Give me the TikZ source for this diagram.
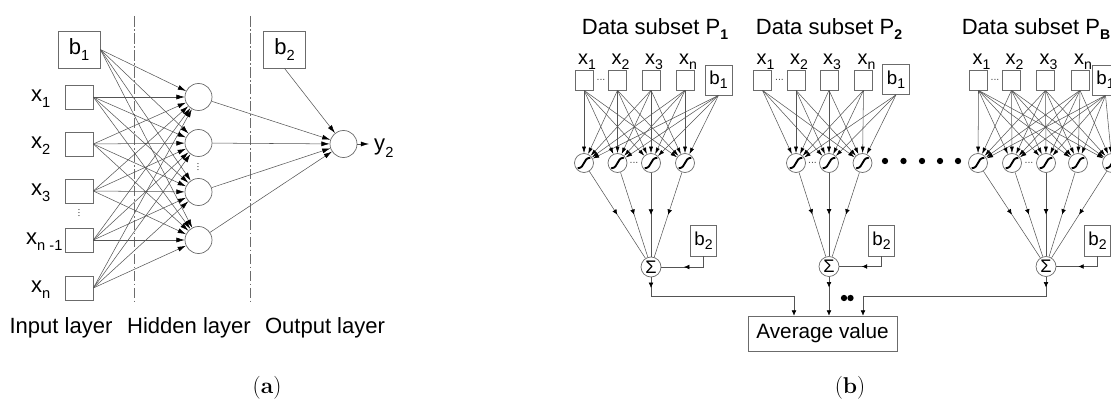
\documentclass[tikz,border=0pt]{standalone}
\usepackage{fontspec}
\newfontfamily\arial{Liberation Sans}
\usetikzlibrary{arrows.meta,decorations.markings}
\definecolor{frame}{gray}{0.42}
\definecolor{wire}{gray}{0.33}
\newcommand\sbx[3]{\raisebox{-#2pt}{\fontsize{#1}{#1}\selectfont #3}}
\newcommand\sa[1]{\sbx{12.5}{5.5}{#1}}
\newcommand\sbq[1]{\sbx{12}{3.5}{#1}}
\begin{document}
\begin{tikzpicture}[x=0.03cm,y=-0.03cm,
  labA/.style={font=\arial\fontsize{18.8}{22}\selectfont, inner sep=0},
  labB/.style={font=\arial\fontsize{17}{20}\selectfont, inner sep=0},
  boxA/.style={draw=frame, line width=0.6pt, minimum width=0.84cm, minimum height=0.72cm, inner sep=0},
  bA/.style={draw=frame, line width=0.6pt, minimum width=1.26cm, minimum height=1.11cm, inner sep=0, font=\arial\fontsize{18.8}{22}\selectfont},
  nA/.style={circle, draw=frame, line width=0.6pt, minimum size=0.81cm, inner sep=0},
  arA/.style={draw=wire, line width=0.45pt, -{Latex[length=7pt,width=4.2pt,color=black]}},
  dd/.style={draw=frame, line width=0.6pt, dash pattern=on 9pt off 2pt on 1.5pt off 2pt},
  inB/.style={draw=frame, line width=0.6pt, minimum width=0.54cm, minimum height=0.6cm, inner sep=0},
  b1B/.style={draw=frame, line width=0.6pt, minimum width=0.81cm, minimum height=0.9cm, inner sep=0, font=\arial\fontsize{16}{18}\selectfont},
  b2B/.style={draw=frame, line width=0.6pt, minimum width=0.78cm, minimum height=0.93cm, inner sep=0, font=\arial\fontsize{16}{18}\selectfont},
  sig/.style={circle, draw=frame, line width=0.6pt, minimum size=0.57cm, inner sep=0,
    path picture={\draw[line width=1.6pt, black] ([shift={(-0.19cm,-0.16cm)}]path picture bounding box.center) .. controls +(0.24cm,0.02cm) and +(-0.24cm,-0.02cm) .. ([shift={(0.19cm,0.16cm)}]path picture bounding box.center);}},
  sumB/.style={circle, draw=frame, line width=0.6pt, minimum size=0.6cm, inner sep=0, font=\arial\fontsize{15.5}{15.5}\selectfont},
  avgB/.style={draw=frame, line width=0.6pt, minimum width=4.47cm, minimum height=1.05cm, inner sep=0, font=\arial\fontsize{17.7}{20}\selectfont},
  arB/.style={draw=wire, line width=0.45pt, -{Latex[length=5.5pt,width=3.4pt,color=black]}},
  arB2/.style={draw=wire, line width=0.45pt, -{Latex[length=4.5pt,width=4pt,color=black]}},
  wireB/.style={draw=wire, line width=0.45pt},
  midtip/.style={postaction={decorate}, decoration={markings, mark=at position #1 with {\arrow{Latex[length=4.5pt,width=4pt,color=black]}}}},
  bigdot/.style={circle, fill=black, inner sep=0, minimum size=0.19cm},
  smalldots/.style={inner sep=0, font=\arial\fontsize{9}{9}\selectfont, text=black!70},
  capA/.style={font=\fontsize{19.5}{22}\selectfont, inner sep=0}
]
\useasboundingbox (0,0) rectangle (1111,401);
\clip (0,0) rectangle (1111,401);

%% ---------------- panel (a)
\draw[dd] (134,16) -- (134,302);
\draw[dd] (250,16) -- (250,302);
\node[bA] (b1a) at (79,49.5) {b\sa{1}};
\foreach \i/\y in {1/97,2/144,3/191,4/240,5/288} \node[boxA] (ia\i) at (79,\y) {};
\node[labA, anchor=base west] (la1) at (31,101.5) {x\sa{1}};
\node[labA, anchor=base west] (la2) at (31,148.5) {x\sa{2}};
\node[labA, anchor=base west] (la3) at (31,195.5) {x\sa{3}};
\node[labA, anchor=base west] (la4) at (26,244.5) {x\sa{n -1}};
\node[labA, anchor=base west] (la5) at (31,292.5) {x\sa{n}};
\node[smalldots, rotate=90] (vda) at (79,213) {...};
\foreach \i/\y in {1/97,2/143,3/192,4/240} \node[nA] (ha\i) at (198.5,\y) {};
\node[smalldots, rotate=90] (vdh) at (198,167) {...};
\node[nA] (oa) at (343.5,144) {};
\node[bA] (b2a) at (284.5,49.5) {b\sa{2}};
\coordinate (y2e) at (369,144);
\node[labA, anchor=base west] (y2) at (374,151) {y\sa{2}};
\foreach \h in {1,...,4} {
  \draw[arA] (b1a.east) -- (ha\h);
  \foreach \i in {1,...,5} \draw[arA] (ia\i.east) -- (ha\h);
  \draw[arA] (ha\h) -- (oa);
}
\draw[arA] (b2a.south) -- (oa);
\draw[arA] (oa) -- (y2e);
\node[labA, anchor=base] (l1) at (61,333) {Input layer};
\node[labA, anchor=base] (l2) at (189,333) {Hidden layer};
\node[labA, anchor=base] (l3) at (325,333) {Output layer};
\node[capA, anchor=base] (capa) at (267,393) {(\textbf{a})};

%% ---------------- panel (b)
\node[labA, anchor=base] (t1) at (655,35) {Data subset P\sbq{\bfseries 1}};
\node[labA, anchor=base] (t2) at (829,35) {Data subset P\sbq{\bfseries 2}};
\node[labA, anchor=base] (t3) at (1036,35) {Data subset P\sbq{\bfseries B}};

% block 1
\foreach \n/\x/\l in {1/584/1,2/617.5/2,3/651/3,4/685/n} {
  \node[inB] (p1i\n) at (\x,80) {};
  \node[labB, anchor=base] (p1l\n) at (\x+3,65) {x\sbq{\l}};
}
\node[b1B] (p1b) at (718.5,80) {b\sbq{1}};
\node[smalldots] (p1d) at (601,80) {...};
\foreach \n/\x in {1/584,2/617.5,3/651,4/685} \node[sig] (p1h\n) at (\x,163) {};
\node[smalldots] (p1e) at (634,163) {...};
\node[sumB] (p1s) at (651,267) {Σ};
\node[b2B] (p1c) at (703.5,240.5) {b\sbq{2}};
\foreach \h in {1,...,4} {
  \foreach \i in {1,...,4} \draw[arB] (p1i\i.south) -- (p1h\h);
  \draw[arB] (p1b.south) -- (p1h\h);
  \draw[wireB, midtip=0.5] (p1h\h) -- (p1s);
}
\draw[wireB, midtip=0.57] (p1c.south) |- (p1s.east);

% block 2
\foreach \n/\x/\l in {1/762.5/1,2/796/2,3/829/3,4/863.5/n} {
  \node[inB] (p2i\n) at (\x,80) {};
  \node[labB, anchor=base] (p2l\n) at (\x+3,65) {x\sbq{\l}};
}
\node[b1B] (p2b) at (896,79.5) {b\sbq{1}};
\node[smalldots] (p2d) at (779.5,80) {...};
\foreach \n/\x in {1/796,2/829,3/862.5} \node[sig] (p2h\n) at (\x,163) {};
\node[smalldots] (p2e) at (812.5,163) {...};
\node[sumB] (p2s) at (829,266.5) {Σ};
\node[b2B] (p2c) at (881.5,240.5) {b\sbq{2}};
\foreach \h in {1,...,3} {
  \foreach \i in {1,...,4} \draw[arB] (p2i\i.south) -- (p2h\h);
  \draw[arB] (p2b.south) -- (p2h\h);
  \draw[wireB, midtip=0.5] (p2h\h) -- (p2s);
}
\draw[wireB, midtip=0.57] (p2c.south) |- (p2s.east);

% big dots
\foreach \k/\x in {1/885,2/903.5,3/922,4/940,5/958} \node[bigdot] (bd\k) at (\x,161) {};

% block B
\foreach \n/\x/\l in {1/978.5/1,2/1011.5/2,3/1045.5/3,4/1080/n} {
  \node[inB] (p3i\n) at (\x,80) {};
  \node[labB, anchor=base] (p3l\n) at (\x+3,65) {x\sbq{\l}};
}
\node[b1B] (p3b) at (1105.5,80) {b\sbq{1}};
\node[smalldots] (p3d) at (995,80) {...};
\foreach \n/\x in {1/978,2/1012,3/1046,4/1078,5/1112} \node[sig] (p3h\n) at (\x,163) {};
\node[smalldots] (p3e) at (1029,163) {...};
\node[sumB] (p3s) at (1046,266.5) {Σ};
\node[b2B] (p3c) at (1097.5,240.5) {b\sbq{2}};
\foreach \h in {1,...,5} {
  \foreach \i in {1,...,4} \draw[arB] (p3i\i.south) -- (p3h\h);
  \draw[arB] (p3b.south) -- (p3h\h);
  \draw[wireB, midtip=0.5] (p3h\h) -- (p3s);
}
\draw[wireB, midtip=0.57] (p3c.south) |- (p3s.east);

% average
\node[avgB] (avg) at (822.5,333.5) {Average value};
\coordinate (e1) at (794,296);
\coordinate (e3) at (863,296);
\draw[wireB, midtip=9pt] (p1s) |- (e1);
\draw[arB2] (e1) -- (e1 |- avg.north);
\draw[arB2, midtip=9pt] (p2s) -- (p2s |- avg.north);
\draw[wireB, midtip=9pt] (p3s) |- (e3);
\draw[arB2] (e3) -- (e3 |- avg.north);
\node[bigdot] (dd1) at (844,298) {};
\node[bigdot] (dd2) at (850.5,298) {};
\node[capA, anchor=base] (capb) at (850,393) {(\textbf{b})};
\end{tikzpicture}
\end{document}
